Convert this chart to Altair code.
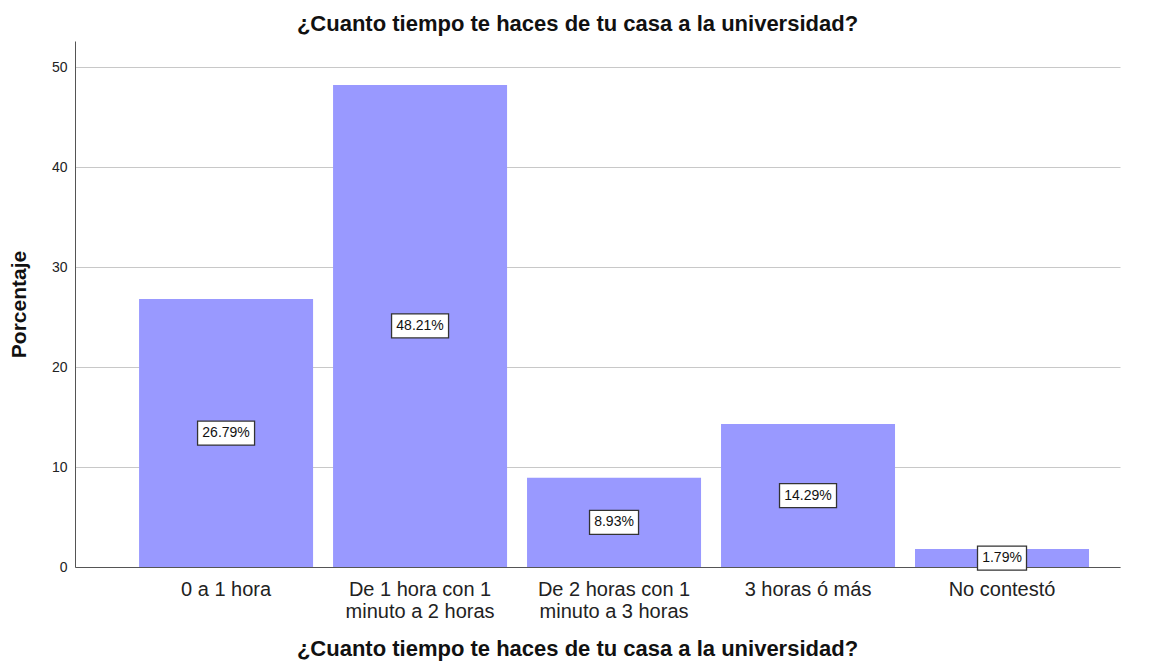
import altair as alt
import pandas as pd

categories = ["0 a 1 hora", "De 1 hora con 1\nminuto a 2 horas", "De 2 horas con 1\nminuto a 3 horas",
              "3 horas ó más", "No contestó"]
percentages = [26.79, 48.21, 8.93, 14.29, 1.79]

df = pd.DataFrame({"cat": categories, "pct": percentages})

FONT = "Liberation Sans"
TITLE = "¿Cuanto tiempo te haces de tu casa a la universidad?"

x = alt.X("cat:N", sort=categories,
          scale=alt.Scale(paddingInner=0.103, paddingOuter=0.245, align=0.674),
          axis=alt.Axis(title=TITLE, labelAngle=0, ticks=False, labelPadding=12,
                        labelFontSize=20, labelColor="#222222", labelFont=FONT,
                        labelLineHeight=22,
                        labelExpr="split(datum.label, '\\n')",
                        domainColor="#555555", domainWidth=1,
                        titleFont=FONT, titleFontSize=22, titleFontWeight="bold",
                        titleColor="#111111", titleX=502, titleY=88,
                        titleAlign="center", titleBaseline="alphabetic"))

y_scale = alt.Scale(domain=[0, 52.6], nice=False)

bars = alt.Chart(df).mark_bar(color="#9999ff").encode(
    x=x,
    y=alt.Y("pct:Q", scale=y_scale,
            axis=alt.Axis(title="Porcentaje", values=[0, 10, 20, 30, 40, 50],
                          ticks=False, labelPadding=8, labelFontSize=14,
                          labelFont=FONT, labelColor="#222222",
                          domainColor="#555555", gridColor="#c8c8c8",
                          titleFont=FONT, titleFontSize=21, titleFontWeight="bold",
                          titleColor="#111111", titleX=-56, titleY=263,
                          titleAngle=-90, titleAlign="center", titleBaseline="middle")),
)

base = alt.Chart(df).transform_calculate(
    mid="datum.pct / 2",
    lab="format(datum.pct, '.2f') + '%'",
).transform_calculate(
    boxw="length(datum.lab) * 8 + 9"
)

boxes = base.mark_bar(fill="white", stroke="#333333", strokeWidth=1.3,
                      yOffset=-12, y2Offset=12).encode(
    x=alt.X("cat:N", sort=categories),
    y=alt.Y("mid:Q", scale=y_scale),
    y2="mid:Q",
    size=alt.Size("boxw:Q", scale=None, legend=None),
)

texts = base.mark_text(font=FONT, fontSize=14, color="#111111", baseline="middle").encode(
    x=alt.X("cat:N", sort=categories),
    y=alt.Y("mid:Q", scale=y_scale),
    text="lab:N",
)

chart = alt.layer(bars, boxes, texts).properties(
    width=1045, height=526,
    title=alt.TitleParams(TITLE, font=FONT, fontSize=22, fontWeight="bold",
                          color="#111111", anchor="middle", frame="group",
                          dx=-20, offset=5),
    autosize=alt.AutoSizeParams(type="none"),
    padding={"left": 67, "top": 33, "right": 23, "bottom": 94},
).configure_view(stroke=None).configure_axis(grid=True).configure_axisX(grid=False)

chart.save("out.html", embed_options={"renderer": "svg", "actions": False})
